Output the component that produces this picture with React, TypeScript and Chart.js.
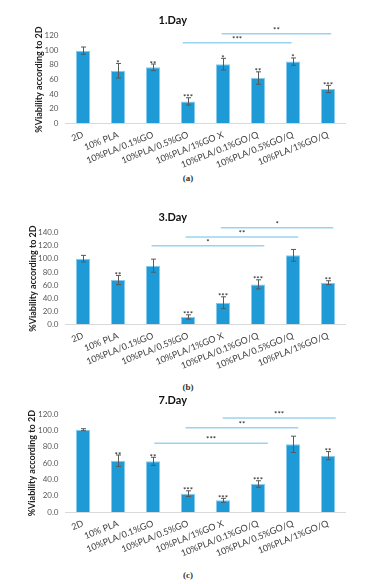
import React, { useEffect, useRef } from 'react';
import { Chart, registerables } from 'chart.js';

Chart.register(...registerables);

const categories = [
  '2D',
  '10% PLA',
  '10%PLA/0.1%GO',
  '10%PLA/0.5%GO',
  '10%PLA/1%GO X',
  '10%PLA/0.1%GO/Q',
  '10%PLA/0.5%GO/Q',
  '10%PLA/1%GO/Q',
];

// Day 1
const day1Values = [99.5, 72, 76.7, 30, 81, 62, 84.5, 47];
const day1Errors = [5, 10, 4.5, 5, 8, 8.5, 5, 5];
const day1Stars = ['', '*', '**', '***', '*', '**', '*', '***'];
// [fromIndex, toIndex, yValue, label]
const day1Brackets: [number, number, number, string][] = [
  [2.85, 5.96, 110.5, '***'],
  [3.96, 7.09, 122.8, '**'],
];
const day1Ticks = { max: 120, step: 20, decimals: 0 };

// Day 3
const day3Values = [100.3, 67.7, 89.6, 11.2, 33, 61, 105.4, 63.6];
const day3Errors = [5, 7, 10, 3.3, 9, 7, 9, 3];
const day3Stars = ['', '**', '', '***', '***', '***', '', '**'];
const day3Brackets: [number, number, number, string][] = [
  [1.96, 5.18, 120.2, '*'],
  [2.93, 6.15, 133.4, '**'],
  [3.94, 7.15, 147.7, '*'],
];
const day3Ticks = { max: 140, step: 20, decimals: 1 };

// Day 7
const day7Values = [101.1, 63, 62.2, 22.5, 14.3, 34.4, 83.1, 69.2];
const day7Errors = [1.2, 7, 5, 3.5, 2.5, 4, 10, 5];
const day7Stars = ['', '**', '**', '***', '***', '***', '', '**'];
const day7Brackets: [number, number, number, string][] = [
  [2.04, 5.28, 84.4, '***'],
  [2.93, 6.15, 103.6, '**'],
  [3.99, 7.22, 115.5, '***'],
];
const day7Ticks = { max: 120, step: 20, decimals: 1 };

const FONT = 'Lato, "Open Sans", sans-serif';
const BAR = '#1E9AD6';
const BAR_EDGE = '#86CBEE';
const SIG = '#9AD3EF';

type Spec = {
  title: string;
  values: number[];
  errors: number[];
  stars: string[];
  brackets: [number, number, number, string][];
  ticks: { max: number; step: number; decimals: number };
  top: number;
  height: number;
  titlePadTop: number;
  titlePadBottom: number;
  xAxisHeight: number;
  yTitlePad: number;
  caption: string;
  captionTop: number;
};

const specs: Spec[] = [
  {
    title: '1.Day', values: day1Values, errors: day1Errors, stars: day1Stars, brackets: day1Brackets,
    ticks: day1Ticks, top: 0, height: 170, titlePadTop: 13.4, titlePadBottom: 9.1, xAxisHeight: 46.7,
    yTitlePad: 33.6, caption: '(a)', captionTop: 172,
  },
  {
    title: '3.Day', values: day3Values, errors: day3Errors, stars: day3Stars, brackets: day3Brackets,
    ticks: day3Ticks, top: 190, height: 180, titlePadTop: 20.4, titlePadBottom: 9.1, xAxisHeight: 45.7,
    yTitlePad: 27.4, caption: '(b)', captionTop: 381,
  },
  {
    title: '7.Day', values: day7Values, errors: day7Errors, stars: day7Stars, brackets: day7Brackets,
    ticks: day7Ticks, top: 385, height: 175, titlePadTop: 9.1, titlePadBottom: 7, xAxisHeight: 48,
    yTitlePad: 26.3, caption: '(c)', captionTop: 569,
  },
];

function DayChart({ spec }: { spec: Spec }) {
  const ref = useRef<HTMLCanvasElement>(null);
  useEffect(() => {
    const annot = {
      id: 'annot' + spec.title,
      afterDatasetsDraw(chart: any) {
        const { ctx } = chart;
        const x = chart.scales.x;
        const y = chart.scales.y;
        ctx.save();
        // error bars
        ctx.strokeStyle = '#595959';
        ctx.lineWidth = 1;
        spec.values.forEach((v, i) => {
          const e = spec.errors[i];
          const xp = Math.round(x.getPixelForValue(i)) + 0.5;
          const yt = y.getPixelForValue(v + e);
          const yb = y.getPixelForValue(v - e);
          ctx.beginPath();
          ctx.moveTo(xp, yt);
          ctx.lineTo(xp, yb);
          ctx.moveTo(xp - 2.5, yt);
          ctx.lineTo(xp + 2.5, yt);
          ctx.moveTo(xp - 2.5, yb);
          ctx.lineTo(xp + 2.5, yb);
          ctx.stroke();
        });
        // stars over bars
        ctx.fillStyle = '#222';
        ctx.font = '8px ' + FONT;
        ctx.textAlign = 'center';
        ctx.textBaseline = 'alphabetic';
        spec.values.forEach((v, i) => {
          const s = spec.stars[i];
          if (!s) return;
          const xp = x.getPixelForValue(i);
          const yt = y.getPixelForValue(v + spec.errors[i]);
          ctx.fillText(s, xp, yt + 2.5);
        });
        // significance brackets
        spec.brackets.forEach(([from, to, val, label]) => {
          const x1 = x.getPixelForValue(from);
          const x2 = x.getPixelForValue(to);
          const yp = y.getPixelForValue(val);
          ctx.strokeStyle = SIG;
          ctx.lineWidth = 1.5;
          ctx.beginPath();
          ctx.moveTo(x1, yp);
          ctx.lineTo(x2, yp);
          ctx.stroke();
          ctx.fillStyle = '#222';
          ctx.fillText(label, (x1 + x2) / 2, yp - 1);
        });
        ctx.restore();
      },
    };

    const chart = new Chart(ref.current!, {
      type: 'bar',
      data: {
        labels: categories,
        datasets: [
          {
            data: spec.values,
            backgroundColor: BAR,
            borderColor: BAR_EDGE,
            borderWidth: 1,
            barPercentage: 0.4,
            categoryPercentage: 1,
          },
        ],
      },
      options: {
        responsive: false,
        animation: false,
        layout: { padding: { left: 0, right: 30.5, top: 0, bottom: 0 } },
        plugins: {
          legend: { display: false },
          tooltip: { enabled: false },
          title: {
            display: true,
            text: spec.title,
            color: '#111',
            font: { family: FONT, size: 11, weight: 'bold', lineHeight: 1.2 },
            padding: { top: spec.titlePadTop, bottom: spec.titlePadBottom },
          },
        },
        scales: {
          x: {
            grid: { display: false, drawTicks: false },
            border: { display: true, color: '#D9D9D9', width: 1 },
            ticks: {
              autoSkip: false,
              maxRotation: 22,
              minRotation: 22,
              padding: 6,
              color: '#404040',
              font: { family: FONT, size: 9 },
            },
            afterFit: (s: any) => {
              s.height = spec.xAxisHeight;
            },
          },
          y: {
            min: 0,
            max: spec.ticks.max,
            grid: { display: false, drawTicks: false },
            border: { display: false },
            ticks: {
              stepSize: spec.ticks.step,
              padding: 7,
              color: '#595959',
              font: { family: FONT, size: 8 },
              callback: (v: any) => Number(v).toFixed(spec.ticks.decimals),
            },
            title: {
              display: true,
              text: '%Viability according to 2D',
              color: '#222',
              font: { family: FONT, size: 9, weight: 'bold', lineHeight: 1.2 },
              padding: { top: spec.yTitlePad, bottom: 0 },
            },
            afterFit: (s: any) => {
              s.width = 65.5;
            },
          },
        },
      },
      plugins: [annot],
    });
    return () => chart.destroy();
  }, [spec]);
  return (
    <div style={{ position: 'absolute', left: 0, top: spec.top, width: 376, height: spec.height }}>
      <canvas ref={ref} width={376} height={spec.height} style={{ display: 'block' }} />
    </div>
  );
}

export default function App() {
  return (
    <div style={{ position: 'absolute', left: 0, top: 0, width: 376, height: 584, background: '#fff' }}>
      {specs.map((s) => (
        <React.Fragment key={s.title}>
          <DayChart spec={s} />
          <div
            style={{
              position: 'absolute',
              left: 0,
              width: 376,
              top: s.captionTop,
              textAlign: 'center',
              fontFamily: '"Liberation Serif", "DejaVu Serif", serif',
              fontWeight: 'bold',
              fontSize: 9,
              lineHeight: '12px',
              color: '#333',
            }}
          >
            {s.caption}
          </div>
        </React.Fragment>
      ))}
    </div>
  );
}
